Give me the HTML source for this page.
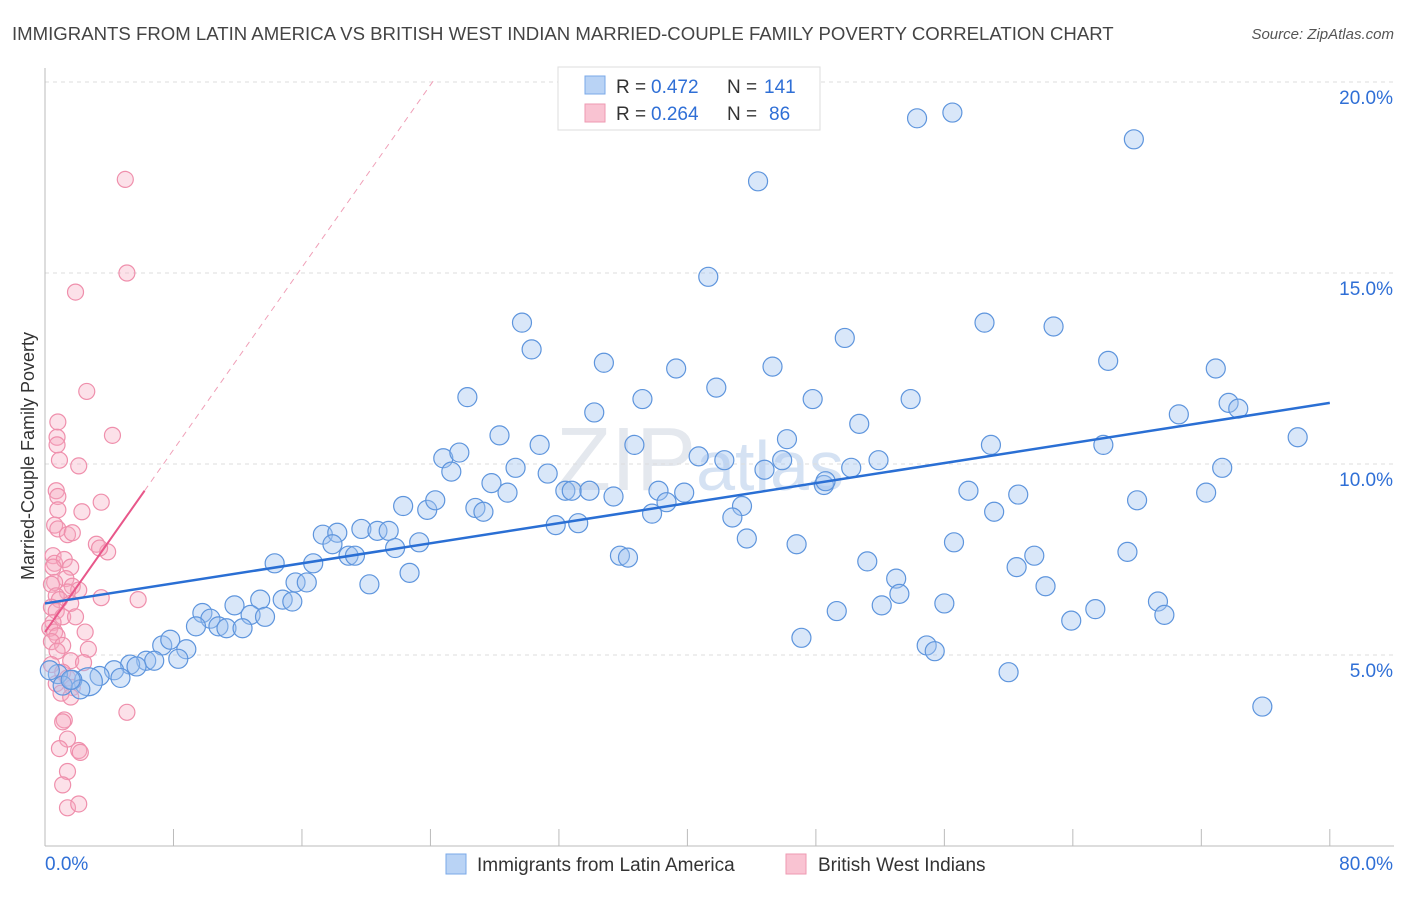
<!DOCTYPE html>
<html><head><meta charset="utf-8"><style>
body{margin:0;background:#fff;font-family:"Liberation Sans",sans-serif;}
svg text{font-family:"Liberation Sans",sans-serif;}
</style></head><body>
<svg id="chart" width="1406" height="892">
<text x="12" y="40" font-size="18.6" fill="#444">IMMIGRANTS FROM LATIN AMERICA VS BRITISH WEST INDIAN MARRIED-COUPLE FAMILY POVERTY CORRELATION CHART</text>
<text x="1394" y="39" font-size="15" fill="#555" font-style="italic" text-anchor="end">Source: ZipAtlas.com</text>
<text x="700" y="490" font-size="90" fill="#e4e8ee" text-anchor="middle" font-family="Liberation Serif">ZIP<tspan fill="#d5e2f3" font-family="Liberation Sans" font-size="70">atlas</tspan></text>
<g id="grid"></g><g id="axes"></g><g id="pink"></g><g id="blue"></g><g id="lines"></g>
<text transform="translate(34,456) rotate(-90)" font-size="18" fill="#333" text-anchor="middle">Married-Couple Family Poverty</text>
<g>
<rect x="558" y="67" width="262" height="63" fill="#fff" stroke="#ddd"/>
<rect x="585" y="76" width="20" height="18" fill="#b9d3f5" stroke="#7aa8e8"/>
<rect x="585" y="104" width="20" height="18" fill="#f9c3d2" stroke="#ee99b2"/>
<text x="616" y="93" font-size="19" fill="#333">R =</text>
<text x="651" y="93" font-size="19" fill="#2f6fd6">0.472</text>
<text x="727" y="93" font-size="19" fill="#333">N =</text>
<text x="764" y="93" font-size="19" fill="#2f6fd6">141</text>
<text x="616" y="120" font-size="19" fill="#333">R =</text>
<text x="651" y="120" font-size="19" fill="#2f6fd6">0.264</text>
<text x="727" y="120" font-size="19" fill="#333">N =</text>
<text x="769" y="120" font-size="19" fill="#2f6fd6">86</text>
</g>
<g>
<rect x="446" y="854" width="20" height="20" fill="#b9d3f5" stroke="#7aa8e8"/>
<text x="477" y="871" font-size="19" fill="#333">Immigrants from Latin America</text>
<rect x="786" y="854" width="20" height="20" fill="#f9c3d2" stroke="#ee99b2"/>
<text x="818" y="871" font-size="19" fill="#333">British West Indians</text>
</g>
</svg>
<script>
const xTicks=[0,8,16,24,32,40,48,56,64,72,80];
const yTicks=[5,10,15,20];
const blueX=[54.3,56.5,67.8,44.4,41.3,29.7,30.3,34.8,39.3,45.3,49.8,58.5,62.8,66.2,72.9,41.8,37.2,26.3,34.2,47.8,53.9,70.6,73.7,74.3,50.7,28.3,30.8,36.7,46.2,58.9,65.9,78.0,24.8,25.8,25.3,29.3,31.3,40.7,42.3,44.8,45.9,50.2,51.9,73.3,27.8,28.8,32.4,32.8,33.9,35.4,38.2,39.8,38.7,48.5,48.6,57.5,60.6,68.0,72.3,22.3,23.8,24.3,26.8,27.3,37.8,43.4,42.8,59.1,31.8,33.2,17.3,18.2,19.7,20.7,21.4,17.9,18.9,19.3,21.8,23.3,43.7,46.8,56.6,35.8,36.3,67.4,61.6,14.3,16.7,22.7,51.2,60.5,53.0,53.2,15.6,16.3,20.2,62.3,13.4,14.8,15.4,11.8,52.1,56.0,69.3,49.3,65.4,69.7,9.8,10.3,12.8,13.7,9.4,10.8,11.3,12.3,63.9,47.1,7.3,7.8,8.8,54.9,55.4,6.3,6.8,8.3,5.3,5.7,4.3,3.4,4.7,2.7,1.7,0.8,2.2,1.1,1.6,60.0,75.8,0.3];
const blueY=[19.05,19.2,18.5,17.4,14.9,13.7,13.0,12.65,12.5,12.55,13.3,13.7,13.6,12.7,12.5,12.0,11.7,11.75,11.35,11.7,11.7,11.3,11.6,11.45,11.05,10.75,10.5,10.5,10.65,10.5,10.5,10.7,10.15,10.3,9.8,9.9,9.75,10.2,10.1,9.85,10.1,9.9,10.1,9.9,9.5,9.25,9.3,9.3,9.3,9.15,9.3,9.25,9.0,9.45,9.55,9.3,9.2,9.05,9.25,8.9,8.8,9.05,8.85,8.75,8.7,8.9,8.6,8.75,8.4,8.45,8.15,8.2,8.3,8.25,8.25,7.9,7.6,7.6,7.8,7.95,8.05,7.9,7.95,7.6,7.55,7.7,7.6,7.4,7.4,7.15,7.45,7.3,7.0,6.6,6.9,6.9,6.85,6.8,6.45,6.45,6.4,6.3,6.3,6.35,6.4,6.15,6.2,6.05,6.1,5.95,6.05,6.0,5.75,5.75,5.7,5.7,5.9,5.45,5.25,5.4,5.15,5.25,5.1,4.85,4.85,4.9,4.75,4.7,4.6,4.45,4.4,4.3,4.35,4.5,4.1,4.2,4.35,4.55,3.65,4.6];
const pinkX=[5.0,5.1,1.9,2.6,4.2,0.8,0.75,0.75,0.9,2.1,0.7,0.8,3.5,2.3,0.8,0.6,0.8,1.4,1.7,3.2,3.9,3.4,0.5,0.6,1.2,0.5,1.6,1.3,0.6,0.4,1.7,2.1,1.4,0.7,0.9,1.6,3.5,5.8,0.4,0.7,1.1,1.9,0.5,0.3,0.6,2.5,0.75,0.4,1.1,2.7,0.75,1.6,0.4,1.1,2.4,1.4,0.7,1.7,1.0,1.6,5.1,1.2,1.1,1.4,0.9,2.1,2.2,1.4,1.1,1.4,2.1];
const pinkY=[17.45,15.0,14.5,11.9,10.75,11.1,10.7,10.5,10.1,9.95,9.3,9.15,9.0,8.75,8.8,8.4,8.3,8.15,8.2,7.9,7.7,7.8,7.6,7.4,7.5,7.3,7.3,7.0,6.9,6.85,6.8,6.7,6.65,6.55,6.45,6.35,6.5,6.45,6.25,6.15,6.0,6.0,5.85,5.7,5.6,5.6,5.5,5.35,5.25,5.15,5.1,4.85,4.75,4.55,4.8,4.4,4.25,4.15,4.0,3.9,3.5,3.3,3.25,2.8,2.55,2.5,2.45,1.95,1.6,1.0,1.1];
const blueTrend=[6.35,11.6];
const pinkTrend=[5.6,9.3,6.2];
const NS='http://www.w3.org/2000/svg';
const sx=v=>45+v*16.06, sy=v=>846-v*38.2;
function mk(t,a,p){const e=document.createElementNS(NS,t);for(const k in a)e.setAttribute(k,a[k]);p.appendChild(e);return e;}
const grid=document.getElementById('grid'),axes=document.getElementById('axes');
yTicks.forEach(t=>{const l=mk('line',{x1:45,x2:1394,y1:sy(t),y2:sy(t),stroke:'#ddd','stroke-dasharray':'4,4'},grid);


const tx=mk('text',{x:1393,y:sy(t)+22,'font-size':19,fill:'#2f6fd6','text-anchor':'end'},axes);tx.textContent=t.toFixed(1)+'%';

});
mk('line',{x1:45,x2:45,y1:68,y2:846,stroke:'#bbb'},axes);
mk('line',{x1:45,x2:1394,y1:846,y2:846,stroke:'#bbb'},axes);
xTicks.forEach(t=>{const l=mk('line',{x1:sx(t),x2:sx(t),y1:829,y2:846,stroke:'#bbb'},axes);

});
[[0,'start',45],[80,'end',1393]].forEach(([t,a,x])=>{const tx=mk('text',{x:x,y:870,'font-size':19,fill:'#2f6fd6','text-anchor':a},axes);tx.textContent=t.toFixed(1)+'%';

});
const pg=document.getElementById('pink');
pinkX.forEach((v,i)=>{const c=mk('circle',{cx:sx(v),cy:sy(pinkY[i]),r:8,fill:'rgba(246,170,192,0.35)',stroke:'#ef8fac','stroke-width':1.2},pg);

});
const bg=document.getElementById('blue');
blueX.forEach((v,i)=>{const c=mk('circle',{cx:sx(v),cy:sy(blueY[i]),r:(i==blueX.length-9?14:9.5),fill:'rgba(160,196,240,0.4)',stroke:'#5e95dd','stroke-width':1.2},bg);

});
const lg=document.getElementById('lines');
const slope=(pinkTrend[1]-pinkTrend[0])/pinkTrend[2];
const dl=mk('line',{x1:sx(pinkTrend[2]),y1:sy(pinkTrend[1]),x2:sx(pinkTrend[2]+(20.1-pinkTrend[1])/slope),y2:sy(20.1),stroke:'#f0a0b8','stroke-dasharray':'6,5','stroke-width':1},lg);


const pl=mk('line',{x1:sx(0),y1:sy(pinkTrend[0]),x2:sx(pinkTrend[2]),y2:sy(pinkTrend[1]),stroke:'#e8578a','stroke-width':2},lg);


const bl=mk('line',{x1:sx(0),y1:sy(blueTrend[0]),x2:sx(80),y2:sy(blueTrend[1]),stroke:'#2a6fd4','stroke-width':2.5},lg);


</script>
</body></html>
